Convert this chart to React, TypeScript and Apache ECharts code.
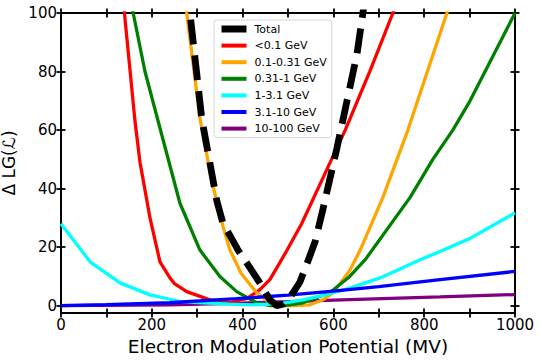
import React, { useEffect, useRef } from "react";
import * as echarts from "echarts";

// ---- data (x: modulation potential in MV, y: Δ LG(ℒ)) ----
const totalX = [279, 284, 310, 343, 357, 372, 390, 416, 438, 460, 475, 490, 504, 526, 541, 560, 577, 608, 630, 652, 665, 672];
const totalY = [110, 100, 64, 36, 28, 24, 19, 13, 7.8, 2, 0, 0.6, 2.7, 8, 14, 22, 33, 54, 70, 86, 100, 108];

const redX = [125, 141, 163, 174, 196, 218, 240, 250, 277, 328, 372, 410, 438, 460, 482, 498, 530, 566, 626, 680, 731, 745];
const redY = [125, 98, 63, 49, 30, 15, 9.5, 7.5, 4.8, 2, 1, 2.5, 5.5, 8.9, 14.7, 19, 28, 40, 60, 80, 100, 105];

const orangeX = [265, 277, 306, 333, 357, 372, 397, 431, 460, 482, 515, 548, 577, 600, 636, 659, 709, 764, 850, 862];
const orangeY = [118, 100, 64, 42, 27, 19, 11, 4.4, 1, 0, 0, 0.3, 2, 4.5, 12, 19, 37, 60, 100, 106];

const greenX = [150, 159, 185, 214, 262, 306, 350, 387, 431, 460, 500, 533, 592, 636, 670, 769, 819, 863, 901, 1000];
const greenY = [115, 100, 80, 63, 35, 19, 10, 4.8, 1, 0, 0.2, 1, 4.4, 10, 15.7, 37, 50, 60, 70, 100];

const cyanX = [0, 64, 130, 196, 240, 262, 313, 370, 423, 480, 533, 580, 636, 703, 791, 835, 901, 1000];
const cyanY = [28, 15, 7.8, 3.7, 2.2, 1.4, 1, 0.5, 0.3, 0.6, 2, 3.6, 6, 9.5, 15.7, 18.5, 23, 31.7];

const blueX = [0, 100, 240, 387, 500, 600, 700, 835, 1000];
const blueY = [0, 0.35, 1, 2.4, 3.6, 5, 6.5, 8.9, 11.7];

const purpleX = [0, 240, 400, 500, 636, 835, 1000];
const purpleY = [0, 0.3, 0.9, 1.4, 2.1, 3, 3.8];

const legendNames = ["Total", "<0.1 GeV", "0.1-0.31 GeV", "0.31-1 GeV", "1-3.1 GeV", "3.1-10 GeV", "10-100 GeV"];
const yTicks = [0, 20, 40, 60, 80, 100];

const zip = (xs: number[], ys: number[]) => xs.map((x, i) => [x, ys[i]]);

const FONT = "DejaVu Sans";

export default function App() {
  const ref = useRef<HTMLDivElement>(null);
  useEffect(() => {
    if (!ref.current) return;
    const chart = echarts.init(ref.current, undefined, { renderer: "svg" });

    const axisLineStyle = { color: "#000", width: 2 };
    const tickStyle = { color: "#000", width: 1.8 };
    const baseX = { type: "value", min: 0, max: 1000, interval: 100, splitLine: { show: false } };
    const baseY = { type: "value", min: -2.5, max: 100, splitLine: { show: false } };

    const xAxes = [
      {
        ...baseX,
        position: "bottom",
        axisLine: { onZero: false, lineStyle: axisLineStyle },
        axisTick: { show: true, inside: false, length: 4.5, lineStyle: tickStyle },
        axisLabel: {
          color: "#000",
          fontSize: 15,
          fontFamily: FONT,
          margin: 4,
          formatter: (v: number) => (v % 200 === 0 ? String(v) : ""),
        },
        name: "Electron Modulation Potential (MV)",
        nameLocation: "middle",
        nameGap: 19,
        nameTextStyle: { color: "#000", fontSize: 18.5, fontFamily: FONT, verticalAlign: "top" },
      },
      {
        ...baseX,
        position: "bottom",
        axisLine: { show: false, onZero: false },
        axisTick: { show: true, inside: true, length: 4.5, lineStyle: tickStyle },
        axisLabel: { show: false },
      },
      {
        ...baseX,
        position: "top",
        axisLine: { onZero: false, lineStyle: axisLineStyle },
        axisTick: { show: true, inside: false, length: 4.5, lineStyle: tickStyle },
        axisLabel: { show: false },
      },
      {
        ...baseX,
        position: "top",
        axisLine: { show: false, onZero: false },
        axisTick: { show: true, inside: true, length: 4.5, lineStyle: tickStyle },
        axisLabel: { show: false },
      },
    ];

    const yAxes = [
      {
        ...baseY,
        position: "left",
        axisLine: { onZero: false, lineStyle: axisLineStyle },
        axisTick: { show: true, inside: false, length: 4.5, lineStyle: tickStyle, customValues: yTicks },
        axisLabel: { color: "#000", fontSize: 15, fontFamily: FONT, margin: 4, customValues: yTicks },
        name: "Δ LG(ℒ)",
        nameLocation: "middle",
        nameGap: 35,
        nameTextStyle: { color: "#000", fontSize: 17, fontFamily: FONT },
      },
      {
        ...baseY,
        position: "left",
        axisLine: { show: false, onZero: false },
        axisTick: { show: true, inside: true, length: 4.5, lineStyle: tickStyle, customValues: yTicks },
        axisLabel: { show: false },
      },
      {
        ...baseY,
        position: "right",
        axisLine: { onZero: false, lineStyle: axisLineStyle },
        axisTick: { show: true, inside: false, length: 4.5, lineStyle: tickStyle, customValues: yTicks },
        axisLabel: { show: false },
      },
      {
        ...baseY,
        position: "right",
        axisLine: { show: false, onZero: false },
        axisTick: { show: true, inside: true, length: 4.5, lineStyle: tickStyle, customValues: yTicks },
        axisLabel: { show: false },
      },
    ];

    const mk = (name: string, xs: number[], ys: number[], color: string, width: number, extra: any = {}) => ({
      name,
      type: "line",
      data: zip(xs, ys),
      symbol: "none",
      showSymbol: false,
      clip: true,
      color,
      lineStyle: { color, width, ...extra },
      emphasis: { disabled: true },
    });

    const colorLW = 3.3;
    const series = [
      mk("10-100 GeV", purpleX, purpleY, "#800080", colorLW),
      mk("<0.1 GeV", redX, redY, "#ff0000", colorLW),
      mk("0.1-0.31 GeV", orangeX, orangeY, "#ffa500", colorLW),
      mk("0.31-1 GeV", greenX, greenY, "#008000", colorLW),
      mk("1-3.1 GeV", cyanX, cyanY, "#00ffff", colorLW),
      mk("3.1-10 GeV", blueX, blueY, "#0000ff", colorLW),
      mk("Total", totalX, totalY, "#000000", 6.8, { type: [25, 11], cap: "butt" }),
    ];

    chart.setOption({
      animation: false,
      grid: { left: 61, right: 25, top: 13, bottom: 47, containLabel: false, outerBoundsMode: "none" },
      xAxis: xAxes,
      yAxis: yAxes,
      legend: {
        left: 214,
        top: 20,
        orient: "vertical",
        padding: [3, 5, 3, 4],
        itemWidth: 25,
        itemHeight: 12,
        itemGap: 4.6,
        borderColor: "#d6d6d6",
        borderWidth: 1,
        borderRadius: 3,
        backgroundColor: "rgba(255,255,255,0.85)",
        textStyle: { color: "#000", fontSize: 11, fontFamily: FONT, lineHeight: 12, padding: [0, 0, 0, 3] },
        data: legendNames.map((n) => ({
          name: n,
          itemStyle: { opacity: 0 },
          lineStyle: { type: "solid", width: n === "Total" ? 7 : 4, opacity: 1 },
        })),
      },
      series,
    });
    return () => chart.dispose();
  }, []);
  return (
    <div
      ref={ref}
      style={{ position: "fixed", left: 0, top: 0, width: 540, height: 360, background: "#fff" }}
    />
  );
}
